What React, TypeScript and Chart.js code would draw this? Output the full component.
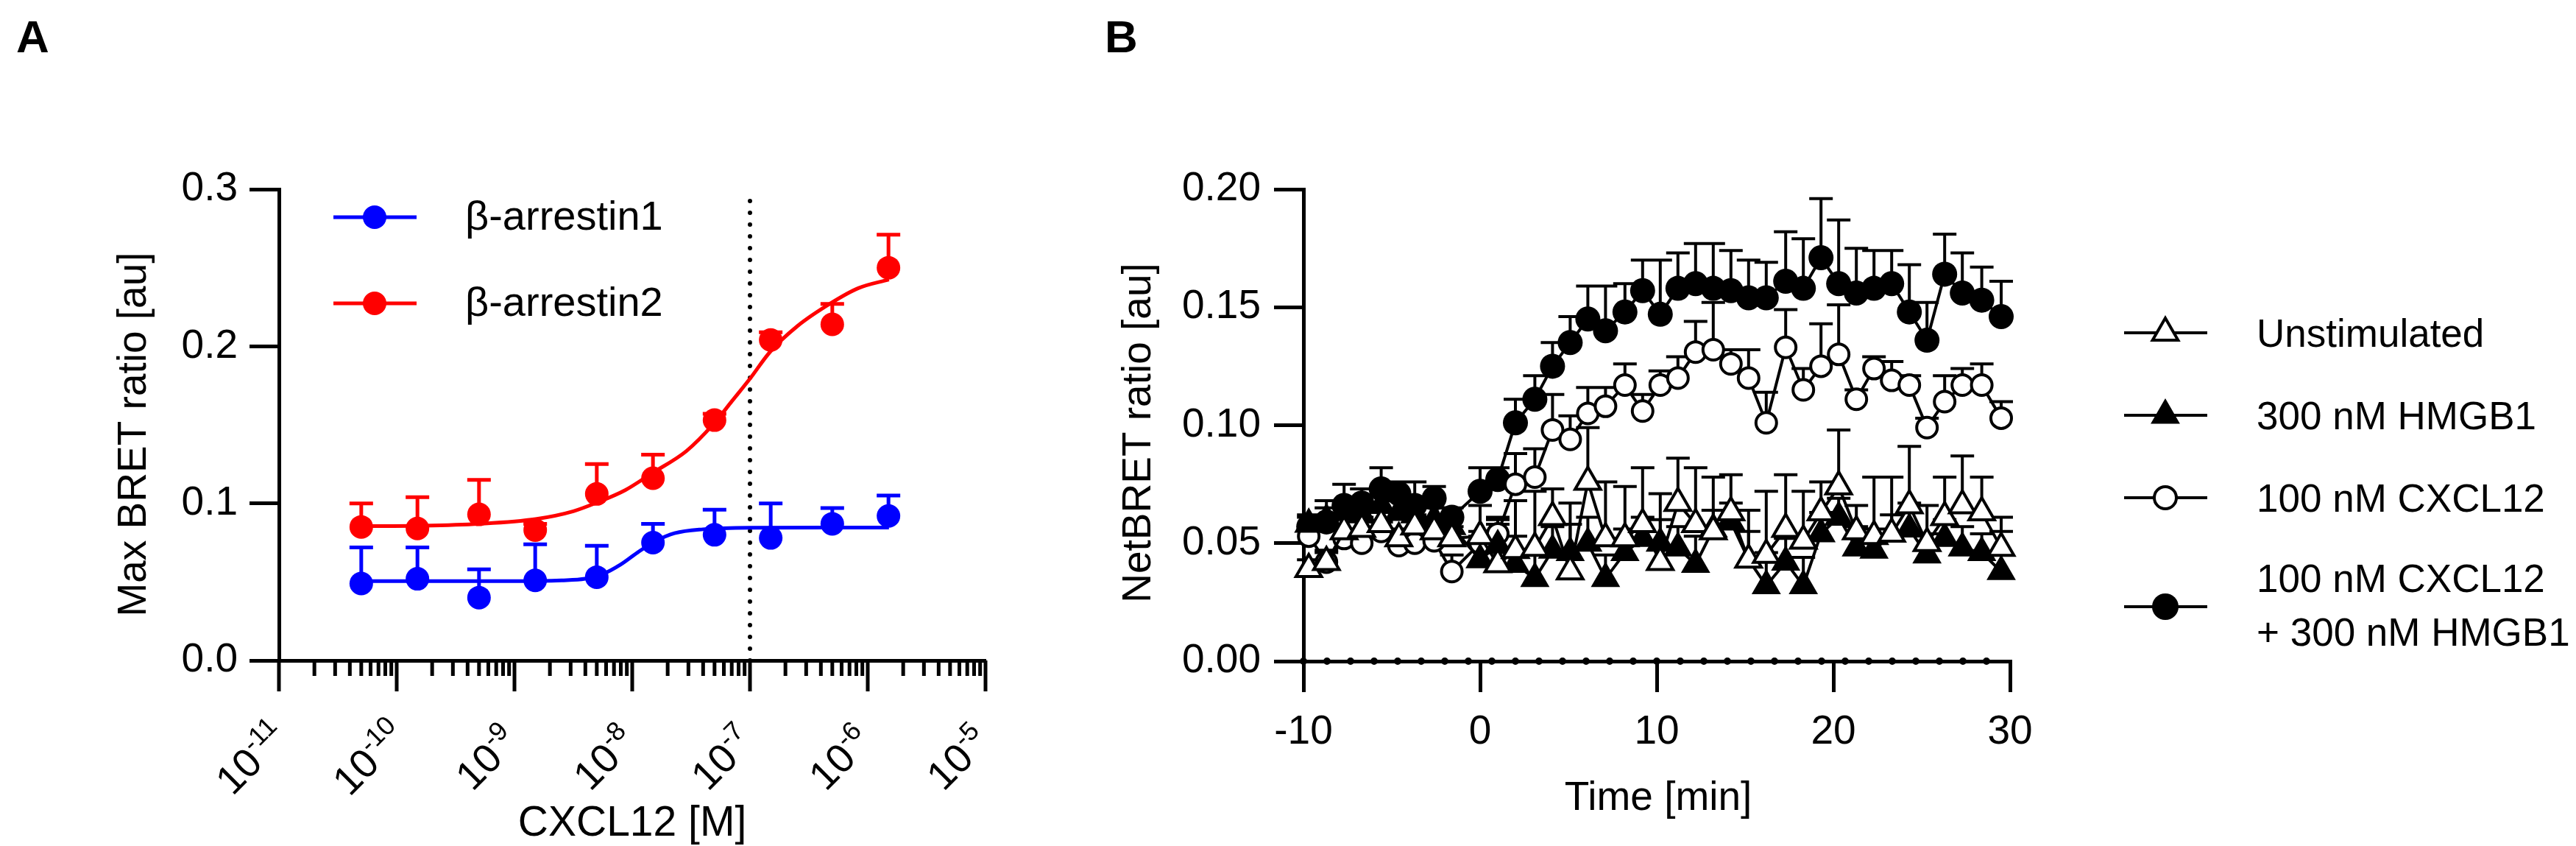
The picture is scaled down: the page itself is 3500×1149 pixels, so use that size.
import React, { useEffect, useRef } from 'react';
import { Chart, registerables } from 'chart.js';

Chart.register(...registerables);

const FONT = '"Liberation Sans", Arial, Helvetica, sans-serif';
const BLUE = '#0000ff';
const RED = '#ff0000';
const BLACK = '#000000';

// ---------- panel A: concentration response ----------
const concentrations = [5e-11, 1.5e-10, 5e-10, 1.5e-9, 5e-9, 1.5e-8, 5e-8, 1.5e-7, 5e-7, 1.5e-6];
const arrestin1Mean = [0.049, 0.052, 0.040, 0.051, 0.053, 0.075, 0.080, 0.078, 0.087, 0.092];
const arrestin1Sem = [0.023, 0.020, 0.018, 0.023, 0.020, 0.012, 0.016, 0.022, 0.010, 0.013];
const arrestin2Mean = [0.085, 0.084, 0.093, 0.083, 0.106, 0.116, 0.153, 0.204, 0.214, 0.250];
const arrestin2Sem = [0.015, 0.020, 0.022, 0.004, 0.019, 0.015, 0.004, 0.005, 0.013, 0.021];

// fitted curves (log10 of concentration, value)
const arrestin1FitLogX = [-10.3, -9.5, -9.0, -8.6, -8.4, -8.25, -8.1, -7.95, -7.8, -7.64, -7.4, -7.0, -6.0, -5.82];
const arrestin1FitY = [0.0505, 0.0505, 0.0505, 0.051, 0.052, 0.055, 0.061, 0.069, 0.076, 0.081, 0.0835, 0.0845, 0.0846, 0.0846];
const arrestin2FitLogX = [-10.3, -9.8, -9.3, -8.82, -8.5, -8.3, -8.06, -7.83, -7.54, -7.31, -7.15, -7.0, -6.83, -6.6, -6.31, -6.08, -5.82];
const arrestin2FitY = [0.0855, 0.0858, 0.087, 0.090, 0.095, 0.1005, 0.1084, 0.1193, 0.1333, 0.1505, 0.1654, 0.1794, 0.1964, 0.2127, 0.2276, 0.237, 0.2425];

const decades = [-11, -10, -9, -8, -7, -6, -5];
const minorSteps = [2, 3, 4, 5, 6, 7, 8, 9];
const referenceConc = 1e-7;
const legendA = ['\u03b2-arrestin1', '\u03b2-arrestin2'];

// ---------- panel B: kinetics ----------
const timeMin = [
  -9.7, -8.7, -7.7, -6.7, -5.6, -4.6, -3.7, -2.6, -1.6,
  0.0, 1.0, 2.0, 3.1, 4.1, 5.1, 6.1, 7.1, 8.2, 9.2,
  10.2, 11.2, 12.2, 13.2, 14.2, 15.2, 16.2, 17.3, 18.3, 19.3,
  20.3, 21.3, 22.3, 23.3, 24.3, 25.3, 26.3, 27.3, 28.4, 29.5,
];
const unstimMean = [
  0.039, 0.042, 0.055, 0.056, 0.058, 0.052, 0.057, 0.055, 0.052,
  0.053, 0.041, 0.047, 0.048, 0.061, 0.038, 0.076, 0.052, 0.052, 0.058,
  0.042, 0.067, 0.058, 0.055, 0.063, 0.043, 0.045, 0.056, 0.051, 0.063,
  0.074, 0.055, 0.053, 0.054, 0.066, 0.050, 0.061, 0.066, 0.063, 0.048,
];
const unstimSem = [
  0.004, 0.004, 0.005, 0.005, 0.005, 0.004, 0.005, 0.004, 0.005,
  0.013, 0.017, 0.021, 0.024, 0.012, 0.029, 0.023, 0.024, 0.022, 0.024,
  0.029, 0.019, 0.024, 0.023, 0.016, 0.021, 0.027, 0.023, 0.021, 0.013,
  0.024, 0.011, 0.025, 0.024, 0.025, 0.016, 0.017, 0.021, 0.015, 0.013,
];
const hmgb1Mean = [
  0.058, 0.060, 0.064, 0.062, 0.066, 0.063, 0.062, 0.060, 0.057,
  0.043, 0.049, 0.041, 0.035, 0.047, 0.046, 0.050, 0.035, 0.046, 0.052,
  0.050, 0.048, 0.041, 0.056, 0.059, 0.043, 0.032, 0.042, 0.032, 0.054,
  0.061, 0.048, 0.047, 0.054, 0.056, 0.045, 0.052, 0.048, 0.046, 0.038,
];
const hmgb1Sem = [
  0.004, 0.005, 0.004, 0.005, 0.004, 0.005, 0.004, 0.005, 0.004,
  0.010, 0.012, 0.012, 0.011, 0.010, 0.012, 0.011, 0.010, 0.010, 0.009,
  0.010, 0.009, 0.012, 0.008, 0.008, 0.012, 0.014, 0.010, 0.012, 0.009,
  0.008, 0.009, 0.009, 0.008, 0.011, 0.009, 0.008, 0.009, 0.008, 0.017,
];
const cxcl12Mean = [
  0.053, 0.042, 0.052, 0.050, 0.055, 0.049, 0.050, 0.051, 0.038,
  0.050, 0.054, 0.075, 0.078, 0.098, 0.094, 0.105, 0.108, 0.117, 0.106,
  0.117, 0.120, 0.131, 0.132, 0.126, 0.120, 0.101, 0.133, 0.115, 0.125,
  0.130, 0.111, 0.124, 0.119, 0.117, 0.099, 0.110, 0.117, 0.117, 0.103,
];
const cxcl12Sem = [
  0.004, 0.005, 0.004, 0.004, 0.004, 0.005, 0.004, 0.004, 0.007,
  0.005, 0.006, 0.013, 0.012, 0.015, 0.010, 0.011, 0.008, 0.009, 0.007,
  0.006, 0.009, 0.013, 0.020, 0.006, 0.012, 0.013, 0.016, 0.009, 0.018,
  0.021, 0.004, 0.005, 0.008, 0.004, 0.004, 0.011, 0.007, 0.009, 0.007,
];
const comboMean = [
  0.057, 0.059, 0.066, 0.067, 0.073, 0.071, 0.066, 0.069, 0.061,
  0.072, 0.077, 0.101, 0.111, 0.125, 0.135, 0.145, 0.140, 0.148, 0.157,
  0.147, 0.158, 0.160, 0.158, 0.157, 0.154, 0.154, 0.161, 0.158, 0.171,
  0.160, 0.156, 0.158, 0.160, 0.148, 0.136, 0.164, 0.156, 0.153, 0.146,
];
const comboSem = [
  0.004, 0.009, 0.009, 0.006, 0.009, 0.005, 0.010, 0.005, 0.004,
  0.010, 0.005, 0.010, 0.010, 0.010, 0.011, 0.014, 0.019, 0.012, 0.013,
  0.023, 0.015, 0.017, 0.019, 0.017, 0.016, 0.015, 0.021, 0.021, 0.025,
  0.027, 0.019, 0.016, 0.014, 0.020, 0.016, 0.017, 0.017, 0.014, 0.015,
];
const legendB = [['Unstimulated'], ['300 nM HMGB1'], ['100 nM CXCL12'], ['100 nM CXCL12', '+ 300 nM HMGB1']];

const H = 1149;
const WA = 1450;
const WB = 2050;

type Series = { xs: number[]; ys: number[]; errs: number[]; color: string };

function errorBars(series: Series[], width: number, cap: number) {
  return {
    id: 'errorBars',
    beforeDatasetsDraw(chart: any) {
      const { ctx } = chart;
      const sx = chart.scales.x;
      const sy = chart.scales.y;
      ctx.save();
      ctx.lineWidth = width;
      series.forEach((s) => {
        ctx.strokeStyle = s.color;
        ctx.beginPath();
        s.xs.forEach((xv, i) => {
          const px = sx.getPixelForValue(xv);
          const top = sy.getPixelForValue(s.ys[i] + s.errs[i]);
          ctx.moveTo(px, sy.getPixelForValue(s.ys[i]));
          ctx.lineTo(px, top);
          ctx.moveTo(px - cap, top);
          ctx.lineTo(px + cap, top);
        });
        ctx.stroke();
      });
      ctx.restore();
    },
  };
}

function marker(ctx: CanvasRenderingContext2D, style: string, x: number, y: number, r: number, fill: string, lw: number) {
  ctx.beginPath();
  if (style === 'triangle') {
    ctx.moveTo(x, y - r);
    ctx.lineTo(x + 0.866 * r, y + 0.5 * r);
    ctx.lineTo(x - 0.866 * r, y + 0.5 * r);
    ctx.closePath();
  } else {
    ctx.arc(x, y, r, 0, Math.PI * 2);
  }
  ctx.fillStyle = fill;
  ctx.fill();
  if (lw > 0) {
    ctx.lineWidth = lw;
    ctx.strokeStyle = BLACK;
    ctx.stroke();
  }
}

function rotatedTitle(ctx: CanvasRenderingContext2D, text: string, x: number, y: number) {
  ctx.save();
  ctx.translate(x, y);
  ctx.rotate(-Math.PI / 2);
  ctx.font = `55px ${FONT}`;
  ctx.textAlign = 'center';
  ctx.textBaseline = 'middle';
  ctx.fillText(text, 0, 0);
  ctx.restore();
}

const panelAText = {
  id: 'panelAText',
  afterDraw(chart: any) {
    const { ctx, chartArea } = chart;
    const sx = chart.scales.x;
    const y0 = chartArea.bottom;
    ctx.save();
    ctx.fillStyle = BLACK;
    ctx.strokeStyle = BLACK;
    ctx.lineWidth = 5;
    // log ticks
    ctx.beginPath();
    decades.forEach((d, k) => {
      const px = sx.getPixelForValue(Math.pow(10, d));
      ctx.moveTo(px, y0);
      ctx.lineTo(px, y0 + 42);
      if (k < decades.length - 1) {
        minorSteps.forEach((m) => {
          const pm = sx.getPixelForValue(m * Math.pow(10, d));
          ctx.moveTo(pm, y0);
          ctx.lineTo(pm, y0 + 21);
        });
      }
    });
    ctx.stroke();
    // rotated power-of-ten labels
    decades.forEach((d) => {
      const px = sx.getPixelForValue(Math.pow(10, d));
      ctx.save();
      ctx.translate(px - 41, y0 + 129);
      ctx.rotate(-Math.PI / 4);
      ctx.font = `55px ${FONT}`;
      const wb = ctx.measureText('10').width;
      ctx.font = `36px ${FONT}`;
      const sup = String(d);
      const ws = ctx.measureText(sup).width;
      const w = wb + ws;
      ctx.textAlign = 'left';
      ctx.textBaseline = 'alphabetic';
      ctx.font = `55px ${FONT}`;
      ctx.fillText('10', -w / 2, 24);
      ctx.font = `36px ${FONT}`;
      ctx.fillText(sup, -w / 2 + wb, 2);
      ctx.restore();
    });
    // titles
    ctx.font = `57px ${FONT}`;
    ctx.textAlign = 'center';
    ctx.textBaseline = 'alphabetic';
    ctx.fillText('CXCL12 [M]', (chartArea.left + chartArea.right) / 2, 1135);
    rotatedTitle(ctx, 'Max BRET ratio [au]', 183, 590);
    ctx.font = `bold 62px ${FONT}`;
    ctx.textAlign = 'left';
    ctx.fillText('A', 22, 71);
    // legend
    const rows = [295, 412];
    const colors = [BLUE, RED];
    rows.forEach((ry, i) => {
      ctx.strokeStyle = colors[i];
      ctx.lineWidth = 5;
      ctx.beginPath();
      ctx.moveTo(453, ry);
      ctx.lineTo(566, ry);
      ctx.stroke();
      ctx.beginPath();
      ctx.arc(509, ry, 16, 0, Math.PI * 2);
      ctx.fillStyle = colors[i];
      ctx.fill();
      ctx.fillStyle = BLACK;
      ctx.font = `56px ${FONT}`;
      ctx.textBaseline = 'middle';
      ctx.fillText(legendA[i], 632, ry + 2);
    });
    ctx.restore();
  },
};

const styleB = [
  { style: 'triangle', fill: '#ffffff', r: 20, lw: 4 },
  { style: 'triangle', fill: BLACK, r: 21, lw: 2 },
  { style: 'circle', fill: '#ffffff', r: 14, lw: 4 },
  { style: 'circle', fill: BLACK, r: 17, lw: 0 },
];

const panelBText = {
  id: 'panelBText',
  afterDraw(chart: any) {
    const { ctx, chartArea } = chart;
    ctx.save();
    ctx.fillStyle = BLACK;
    ctx.font = `55px ${FONT}`;
    ctx.textAlign = 'center';
    ctx.textBaseline = 'alphabetic';
    ctx.fillText('Time [min]', (chartArea.left + chartArea.right) / 2 + 2, 1100);
    rotatedTitle(ctx, 'NetBRET ratio [au]', 98, 588);
    ctx.font = `bold 62px ${FONT}`;
    ctx.textAlign = 'left';
    ctx.fillText('B', 51, 71);
    // legend
    const rows = [452, 564, 676, 824];
    rows.forEach((ry, i) => {
      ctx.strokeStyle = BLACK;
      ctx.lineWidth = 4;
      ctx.beginPath();
      ctx.moveTo(1436, ry);
      ctx.lineTo(1549, ry);
      ctx.stroke();
      const s = styleB[i];
      marker(ctx, s.style, 1492, ry, s.style === 'circle' ? s.r + 1 : s.r, s.fill, s.lw);
      ctx.fillStyle = BLACK;
      ctx.font = `53px ${FONT}`;
      ctx.textAlign = 'left';
      ctx.textBaseline = 'middle';
      const lines = legendB[i];
      if (lines.length === 1) {
        ctx.fillText(lines[0], 1616, ry + 4);
      } else {
        ctx.fillText(lines[0], 1616, ry - 35);
        ctx.fillText(lines[1], 1616, ry + 38);
      }
    });
    ctx.restore();
  },
};

export default function App() {
  const refA = useRef<HTMLCanvasElement | null>(null);
  const refB = useRef<HTMLCanvasElement | null>(null);

  useEffect(() => {
    document.body.style.margin = '0';
    document.body.style.background = '#ffffff';
    Chart.defaults.color = BLACK;
    Chart.defaults.font.family = FONT;

    const pts = (xs: number[], ys: number[]) => xs.map((x, i) => ({ x, y: ys[i] }));

    const chartA = new Chart(refA.current as HTMLCanvasElement, {
      type: 'line',
      data: {
        datasets: [
          { data: pts(concentrations, arrestin1Mean), showLine: false, pointRadius: 16, pointBackgroundColor: BLUE, pointBorderWidth: 0, clip: false } as any,
          { data: pts(concentrations, arrestin2Mean), showLine: false, pointRadius: 16, pointBackgroundColor: RED, pointBorderWidth: 0, clip: false } as any,
          { data: pts(arrestin1FitLogX.map((l) => Math.pow(10, l)), arrestin1FitY), borderColor: BLUE, borderWidth: 5, pointRadius: 0, cubicInterpolationMode: 'monotone' },
          { data: pts(arrestin2FitLogX.map((l) => Math.pow(10, l)), arrestin2FitY), borderColor: RED, borderWidth: 5, pointRadius: 0, cubicInterpolationMode: 'monotone' },
          { data: [{ x: referenceConc, y: 0 }, { x: referenceConc, y: 0.3 }], borderColor: BLACK, borderWidth: 6, borderDash: [0, 16], borderCapStyle: 'round', pointRadius: 0 },
        ],
      },
      options: {
        animation: false,
        responsive: false,
        devicePixelRatio: 1,
        events: [],
        layout: { padding: { left: 0, right: WA - 1339, top: 257, bottom: 0 }, autoPadding: false },
        plugins: { legend: { display: false }, tooltip: { enabled: false } },
        scales: {
          x: {
            type: 'logarithmic',
            min: 1e-11,
            max: 1e-5,
            afterFit: (s: any) => { s.height = H - 897; },
            grid: { display: false },
            border: { display: true, color: BLACK, width: 5 },
            ticks: { display: false },
          },
          y: {
            type: 'linear',
            min: 0,
            max: 0.3,
            afterFit: (s: any) => { s.width = 379; },
            ticks: { stepSize: 0.1, callback: (v: any) => Number(v).toFixed(1), font: { family: FONT, size: 55 }, color: BLACK, padding: 16 },
            grid: { drawOnChartArea: false, color: BLACK, lineWidth: 5, tickLength: 40 },
            border: { color: BLACK, width: 5 },
          },
        },
      } as any,
      plugins: [
        errorBars([
          { xs: concentrations, ys: arrestin1Mean, errs: arrestin1Sem, color: BLUE },
          { xs: concentrations, ys: arrestin2Mean, errs: arrestin2Sem, color: RED },
        ], 5, 16),
        panelAText,
      ],
    });

    const seriesB = [
      { mean: unstimMean, sem: unstimSem },
      { mean: hmgb1Mean, sem: hmgb1Sem },
      { mean: cxcl12Mean, sem: cxcl12Sem },
      { mean: comboMean, sem: comboSem },
    ];

    const chartB = new Chart(refB.current as HTMLCanvasElement, {
      type: 'line',
      data: {
        datasets: [
          ...seriesB.map((s, i) => ({
            data: pts(timeMin, s.mean),
            borderColor: BLACK,
            borderWidth: 4,
            pointStyle: styleB[i].style,
            pointRadius: styleB[i].r,
            pointBackgroundColor: styleB[i].fill,
            pointBorderColor: BLACK,
            pointBorderWidth: styleB[i].lw,
            clip: false,
          })),
          { data: [{ x: -10, y: 0 }, { x: 30, y: 0 }], borderColor: BLACK, borderWidth: 10, borderDash: [0, 32], borderCapStyle: 'round', pointRadius: 0, clip: false },
        ] as any,
      },
      options: {
        animation: false,
        responsive: false,
        devicePixelRatio: 1,
        events: [],
        layout: { padding: { left: 0, right: WB - 1281, top: 257, bottom: 0 }, autoPadding: false },
        plugins: { legend: { display: false }, tooltip: { enabled: false } },
        scales: {
          x: {
            type: 'linear',
            min: -10,
            max: 30,
            afterFit: (s: any) => { s.height = H - 898; },
            ticks: { stepSize: 10, font: { family: FONT, size: 55 }, color: BLACK, padding: 22, maxRotation: 0 },
            grid: { drawOnChartArea: false, color: BLACK, lineWidth: 5, tickLength: 42 },
            border: { color: BLACK, width: 5 },
          },
          y: {
            type: 'linear',
            min: 0,
            max: 0.2,
            afterFit: (s: any) => { s.width = 321; },
            ticks: { stepSize: 0.05, callback: (v: any) => Number(v).toFixed(2), font: { family: FONT, size: 55 }, color: BLACK, padding: 18 },
            grid: { drawOnChartArea: false, color: BLACK, lineWidth: 5, tickLength: 40 },
            border: { color: BLACK, width: 5 },
          },
        },
      } as any,
      plugins: [
        errorBars(seriesB.map((s) => ({ xs: timeMin, ys: s.mean, errs: s.sem, color: BLACK })), 4, 16),
        panelBText,
      ],
    });

    return () => {
      chartA.destroy();
      chartB.destroy();
    };
  }, []);

  return (
    <div style={{ position: 'relative', width: 3500, height: H, background: '#ffffff', overflow: 'hidden' }}>
      <canvas ref={refA} width={WA} height={H} style={{ position: 'absolute', left: 0, top: 0 }} />
      <canvas ref={refB} width={WB} height={H} style={{ position: 'absolute', left: WA, top: 0 }} />
    </div>
  );
}
